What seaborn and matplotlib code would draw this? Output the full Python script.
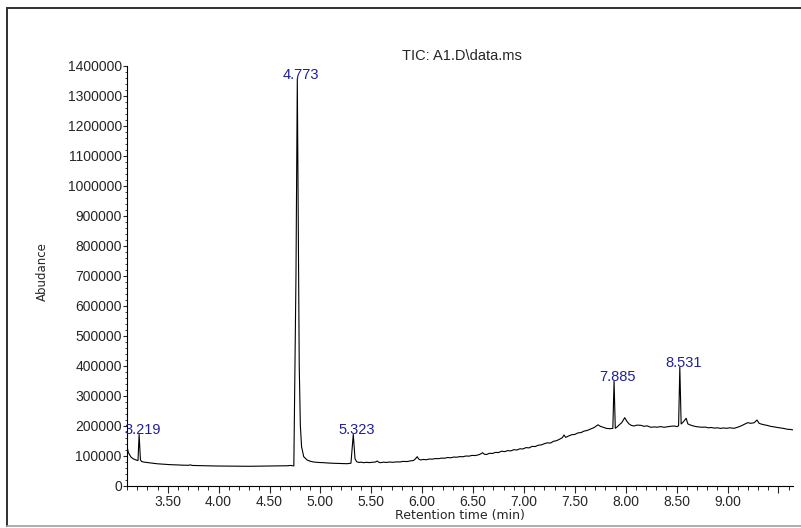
import matplotlib
matplotlib.use("Agg")
import matplotlib.pyplot as plt
from matplotlib.ticker import FixedLocator, MultipleLocator, FixedFormatter
from matplotlib.lines import Line2D
import seaborn as sns
import pandas as pd

# Total ion chromatogram trace: retention time (min) and abundance
retention_time = [
    3.099, 3.114, 3.140, 3.164, 3.197, 3.208, 3.219, 3.232, 3.245, 3.262,
    3.290, 3.311, 3.350, 3.400, 3.440, 3.475, 3.530, 3.580, 3.640, 3.705,
    3.721, 3.741, 3.800, 3.850, 3.900, 3.967, 4.030, 4.100, 4.200, 4.295,
    4.370, 4.450, 4.530, 4.623, 4.680, 4.705, 4.739, 4.760, 4.773, 4.782,
    4.792, 4.803, 4.815, 4.836, 4.869, 4.900, 4.934, 4.980, 5.032, 5.080,
    5.131, 5.200, 5.263, 5.300, 5.323, 5.340, 5.356, 5.380, 5.400, 5.426,
    5.450, 5.480, 5.521, 5.540, 5.558, 5.575, 5.590, 5.620, 5.650, 5.680,
    5.710, 5.754, 5.780, 5.810, 5.853, 5.880, 5.915, 5.935, 5.951, 5.965,
    5.984, 6.010, 6.040, 6.070, 6.100, 6.130, 6.160, 6.190, 6.220, 6.250,
    6.280, 6.310, 6.340, 6.370, 6.400, 6.430, 6.460, 6.490, 6.520, 6.555,
    6.575, 6.593, 6.610, 6.633, 6.660, 6.690, 6.720, 6.750, 6.780, 6.810,
    6.840, 6.870, 6.900, 6.930, 6.960, 6.990, 7.020, 7.050, 7.080, 7.110,
    7.140, 7.170, 7.200, 7.230, 7.260, 7.290, 7.320, 7.350, 7.377, 7.393,
    7.410, 7.440, 7.470, 7.500, 7.530, 7.560, 7.590, 7.620, 7.655, 7.690,
    7.727, 7.750, 7.786, 7.810, 7.845, 7.873, 7.885, 7.897, 7.915, 7.934,
    7.960, 7.990, 8.010, 8.032, 8.055, 8.081, 8.110, 8.147, 8.180, 8.210,
    8.246, 8.280, 8.310, 8.340, 8.377, 8.410, 8.440, 8.475, 8.505, 8.519,
    8.531, 8.544, 8.567, 8.593, 8.610, 8.635, 8.660, 8.690, 8.720, 8.750,
    8.780, 8.810, 8.840, 8.870, 8.900, 8.930, 8.960, 8.990, 9.020, 9.065,
    9.100, 9.131, 9.160, 9.197, 9.230, 9.262, 9.289, 9.310, 9.328, 9.360,
    9.390, 9.420, 9.459, 9.490, 9.520, 9.550, 9.590, 9.620, 9.640,
]
abundance = [
    132000, 110000, 95000, 89000, 84700, 84000, 171000, 86000, 80500, 79000,
    77500, 76700, 75000, 73000, 72000, 71000, 70000, 69500, 68500, 68000,
    69500, 67500, 67000, 66800, 66000, 65700, 65500, 65200, 64900, 64700,
    65000, 65200, 65400, 65700, 66500, 67500, 66000, 700000, 1355000, 900000,
    400000, 200000, 130000, 96700, 85700, 81500, 79000, 77500, 76700, 75500,
    74700, 74000, 73300, 75000, 171000, 90000, 80000, 77500, 78500, 76700,
    78000, 77000, 78500, 79000, 82300, 78000, 76700, 78500, 77500, 79000,
    78000, 79500, 79000, 81000, 80500, 82500, 84000, 90000, 96700, 89000,
    85700, 87500, 86500, 89000, 88500, 90500, 90000, 92000, 91500, 94000,
    93000, 95500, 95000, 97000, 96500, 99000, 98500, 101000, 100500, 103000,
    106000, 110000, 105000, 104000, 108000, 107500, 111000, 110500, 115000, 113500,
    117000, 116000, 120000, 119000, 123000, 122500, 127000, 126000, 131000, 130500,
    135000, 136000, 140000, 143000, 142000, 148000, 150000, 155000, 160000, 169000,
    161000, 166000, 170000, 171000, 176000, 177000, 182000, 184000, 189000, 194000,
    203000, 198000, 194000, 191000, 190000, 191000, 349000, 191300, 196000, 202300,
    210000, 226700, 215000, 206000, 201000, 199000, 202000, 201300, 198000, 199500,
    194700, 196000, 195000, 197000, 194700, 196500, 198000, 199000, 197000, 200000,
    394700, 205700, 213300, 224700, 206000, 202300, 199500, 197000, 196000, 194700,
    195500, 193000, 194000, 192000, 193000, 191000, 192500, 191300, 193000, 191300,
    195000, 199000, 204000, 210000, 208000, 210000, 219000, 208000, 205700, 203000,
    201000, 198000, 196000, 194000, 192500, 191000, 188000, 187500, 186000,
]

# Labelled peaks (apex retention time, apex abundance)
peak_times = [3.219, 4.773, 5.323, 7.885, 8.531]
peak_heights = [171000, 1355000, 171000, 349000, 394700]

x_major = [3.5, 4.0, 4.5, 5.0, 5.5, 6.0, 6.5, 7.0, 7.5, 8.0, 8.5, 9.0, 9.5]
x_major_labels = ["3.50", "4.00", "4.50", "5.00", "5.50", "6.00", "6.50",
                  "7.00", "7.50", "8.00", "8.50", "9.00", ""]
y_major = list(range(0, 1400001, 100000))

df = pd.DataFrame({"time": retention_time, "abundance": abundance})

sns.set_style("ticks")
plt.rcParams["font.family"] = ["Liberation Sans", "DejaVu Sans"]

fig = plt.figure(figsize=(8.01, 5.28), dpi=100)
W, H = 801, 528
ax = fig.add_axes([126.7 / W, 42.3 / H, 666.0 / W, 420.0 / H])

sns.lineplot(data=df, x="time", y="abundance", ax=ax, color="black",
             linewidth=0.8, estimator=None, sort=False)

ax.set_xlim(3.097, 9.64)
ax.set_ylim(0, 1400000)

ax.xaxis.set_major_locator(FixedLocator(x_major))
ax.xaxis.set_major_formatter(FixedFormatter(x_major_labels))
ax.xaxis.set_minor_locator(MultipleLocator(0.1))
ax.yaxis.set_major_locator(FixedLocator(y_major))
ax.set_yticklabels([str(v) for v in y_major])
ax.yaxis.set_minor_locator(MultipleLocator(20000))

ax.tick_params(axis="x", which="major", direction="out", length=5, width=0.8,
               pad=2, labelsize=10)
ax.tick_params(axis="x", which="minor", direction="out", length=3, width=0.7)
ax.tick_params(axis="y", which="major", direction="out", length=3, width=0.8,
               pad=0.5, labelsize=10)
ax.tick_params(axis="y", which="minor", direction="out", length=1.5, width=0.6)

for side in ("top", "right"):
    ax.spines[side].set_visible(False)
for side in ("left", "bottom"):
    ax.spines[side].set_linewidth(0.8)
    ax.spines[side].set_color("black")

ax.set_xlabel("Retention time (min)", fontsize=9, family="DejaVu Sans")
ax.set_ylabel("Abudance", fontsize=8.5, family="DejaVu Sans")
ax.xaxis.set_label_coords(0.5, -0.072)
ax.xaxis.label.set_va("center")
ax.yaxis.set_label_coords(-0.127, 0.51)
ax.yaxis.label.set_va("center")

for t, h in zip(peak_times, peak_heights):
    ax.annotate(f"{t:.3f}", xy=(t, h), xytext=(3.5, -3),
                textcoords="offset pixels", ha="center", va="bottom",
                fontsize=10.5, color="#1f1f99")

fig.text(462 / W, 1 - 56 / H, "TIC: A1.D\\data.ms", ha="center",
         va="center", fontsize=10.5)

# Outer frame around the report panel
fig.add_artist(Line2D([6.7 / W, 1.0], [1 - 8.3 / H, 1 - 8.3 / H],
                      transform=fig.transFigure, color="#303030", lw=1.4))
fig.add_artist(Line2D([6.7 / W, 6.7 / W], [1 - 8.3 / H, 1 - 525.5 / H],
                      transform=fig.transFigure, color="#303030", lw=1.4))
fig.add_artist(Line2D([6.7 / W, 1.0], [1 - 525.5 / H, 1 - 525.5 / H],
                      transform=fig.transFigure, color="#a0a0a0", lw=1.2))

fig.savefig("out.png", dpi=100, facecolor="white")
